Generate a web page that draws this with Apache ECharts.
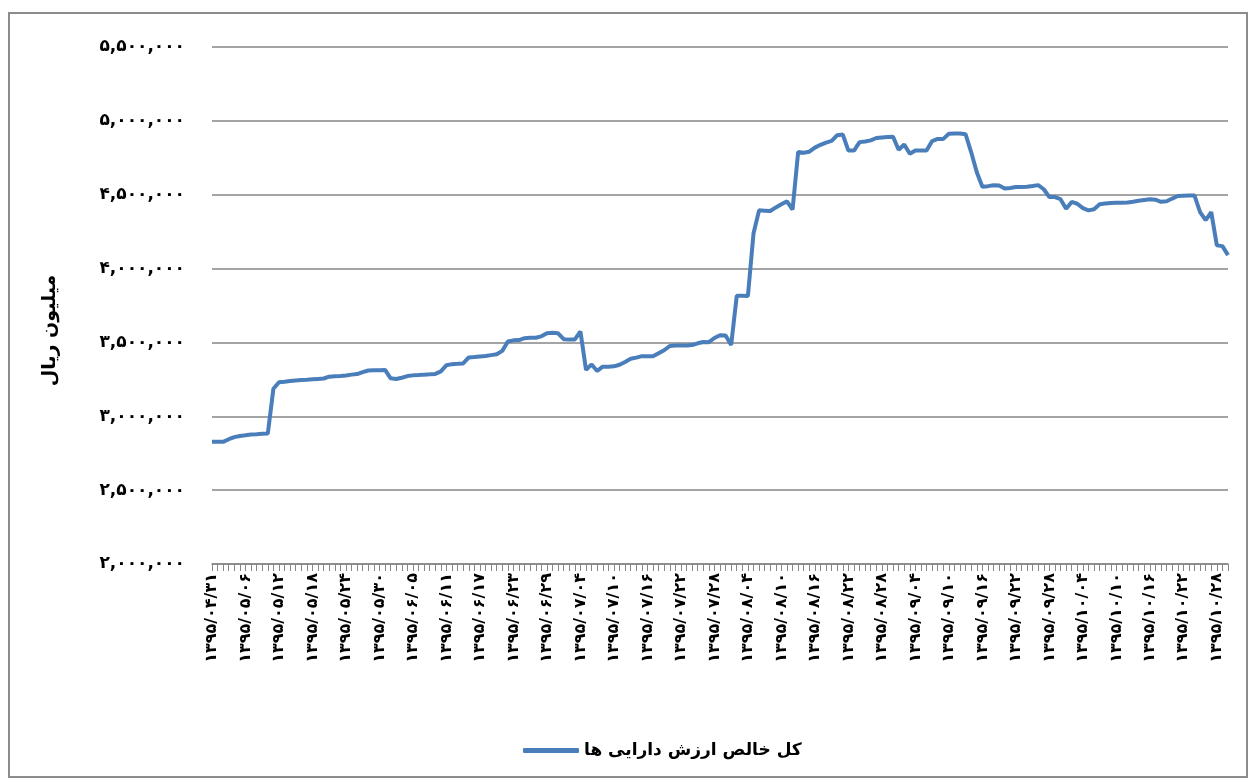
<!DOCTYPE html>
<html>
<head>
<meta charset="utf-8">
<script src="https://cdn.jsdelivr.net/npm/echarts@6/dist/echarts.min.js"></script>
<style>
    html, body { margin: 0; padding: 0; background: #fff; }
    #main { width: 1253px; height: 778px; }
    #frame { position: absolute; left: 8px; top: 12px; width: 1236px; height: 762px; border: 2px solid #8c8c8c; pointer-events: none; }
</style>
</head>
<body>
<div id="main"></div>
<div id="frame"></div>
<script>
// ارقام فارسی
var faDigits = ['۰', '۱', '۲', '۳', '۴', '۵', '۶', '۷', '۸', '۹'];
function toFa(s) {
    return String(s).replace(/[0-9]/g, function (d) { return faDigits[+d]; });
}

// روزهای تقویم: از ۱۳۹۵/۰۴/۳۱ تا ۱۳۹۵/۱۰/۳۰
var monthDays = [[4, 31, 31], [5, 1, 31], [6, 1, 31], [7, 1, 30], [8, 1, 30], [9, 1, 30], [10, 1, 30]];
var dates = [];
monthDays.forEach(function (m) {
    for (var d = m[1]; d <= m[2]; d++) {
        dates.push('1395/' + (m[0] < 10 ? '0' : '') + m[0] + '/' + (d < 10 ? '0' : '') + d);
    }
});

// کل خالص ارزش دارایی ها (میلیون ریال)
var navValues = [
    2827000, 2827000, 2827000, 2845000, 2859000, 2867000, 2871000, 2876000, 2878000, 2881000,
    2883000, 3186000, 3230000, 3234000, 3239000, 3242000, 3245000, 3247000, 3250000, 3253000,
    3256000, 3268000, 3271000, 3273000, 3276000, 3282000, 3286000, 3299000, 3310000, 3311000,
    3312000, 3314000, 3257000, 3252000, 3261000, 3272000, 3277000, 3279000, 3282000, 3284000,
    3287000, 3304000, 3346000, 3353000, 3355000, 3358000, 3398000, 3401000, 3405000, 3408000,
    3414000, 3420000, 3443000, 3506000, 3514000, 3516000, 3529000, 3532000, 3532000, 3541000,
    3562000, 3566000, 3562000, 3522000, 3519000, 3520000, 3574000, 3314000, 3351000, 3307000,
    3336000, 3336000, 3338000, 3349000, 3368000, 3389000, 3397000, 3407000, 3407000, 3407000,
    3427000, 3447000, 3476000, 3479000, 3480000, 3480000, 3482000, 3494000, 3503000, 3502000,
    3530000, 3549000, 3547000, 3483000, 3816000, 3816000, 3814000, 4237000, 4394000, 4392000,
    4390000, 4414000, 4436000, 4455000, 4399000, 4789000, 4784000, 4791000, 4819000, 4838000,
    4853000, 4864000, 4903000, 4907000, 4799000, 4799000, 4856000, 4860000, 4868000, 4884000,
    4888000, 4891000, 4892000, 4804000, 4840000, 4777000, 4799000, 4799000, 4799000, 4863000,
    4878000, 4878000, 4912000, 4914000, 4914000, 4909000, 4787000, 4652000, 4554000, 4558000,
    4564000, 4562000, 4542000, 4546000, 4552000, 4553000, 4554000, 4559000, 4565000, 4537000,
    4484000, 4484000, 4470000, 4405000, 4451000, 4439000, 4409000, 4394000, 4402000, 4436000,
    4441000, 4444000, 4446000, 4445000, 4447000, 4452000, 4459000, 4464000, 4469000, 4466000,
    4452000, 4456000, 4474000, 4491000, 4493000, 4494000, 4494000, 4382000, 4328000, 4382000,
    4157000, 4152000, 4091000
];

var yMin = 2000000, yMax = 5500000, yStep = 500000;

var myChart = echarts.init(document.getElementById('main'));

var option = {
    backgroundColor: '#fff',
    animation: false,
    grid: {
        left: 212,
        right: 25,
        top: 47,
        bottom: 214
    },
    legend: {
        bottom: 14,
        left: 518,
        icon: 'roundRect',
        itemWidth: 56,
        itemHeight: 5,
        itemGap: 10,
        textStyle: {
            fontFamily: 'DejaVu Sans',
            fontWeight: 'bold',
            fontSize: 17,
            color: '#000'
        },
        data: ['کل خالص ارزش دارایی ها']
    },
    xAxis: {
        type: 'category',
        boundaryGap: false,
        data: dates,
        axisLine: { lineStyle: { color: '#868686', width: 1.5 } },
        axisTick: { interval: 0, length: 7, lineStyle: { color: '#868686' } },
        axisLabel: {
            interval: 5,
            rotate: 90,
            margin: 9,
            fontFamily: 'DejaVu Sans',
            fontWeight: 'bold',
            fontSize: 16,
            color: '#000',
            formatter: function (v) { return toFa(v); }
        }
    },
    yAxis: {
        type: 'value',
        min: yMin,
        max: yMax,
        interval: yStep,
        name: 'میلیون ریال',
        nameLocation: 'middle',
        nameGap: 152,
        nameTextStyle: {
            fontFamily: 'DejaVu Sans',
            fontWeight: 'bold',
            fontSize: 19,
            color: '#000',
            padding: [0, 50, 0, 0]
        },
        axisLine: { show: false },
        axisTick: { show: false },
        splitLine: { lineStyle: { color: '#868686', width: 1.5 } },
        axisLabel: {
            margin: 27,
            fontFamily: 'DejaVu Sans',
            fontWeight: 'bold',
            fontSize: 17,
            color: '#000',
            formatter: function (v) {
                return toFa(v.toString().replace(/\B(?=(\d{3})+(?!\d))/g, ','));
            }
        }
    },
    series: [{
        name: 'کل خالص ارزش دارایی ها',
        type: 'line',
        data: navValues,
        showSymbol: false,
        symbol: 'none',
        color: '#4A7EBB',
        lineStyle: { color: '#4A7EBB', width: 4 }
    }]
};

myChart.setOption(option);
</script>
</body>
</html>
